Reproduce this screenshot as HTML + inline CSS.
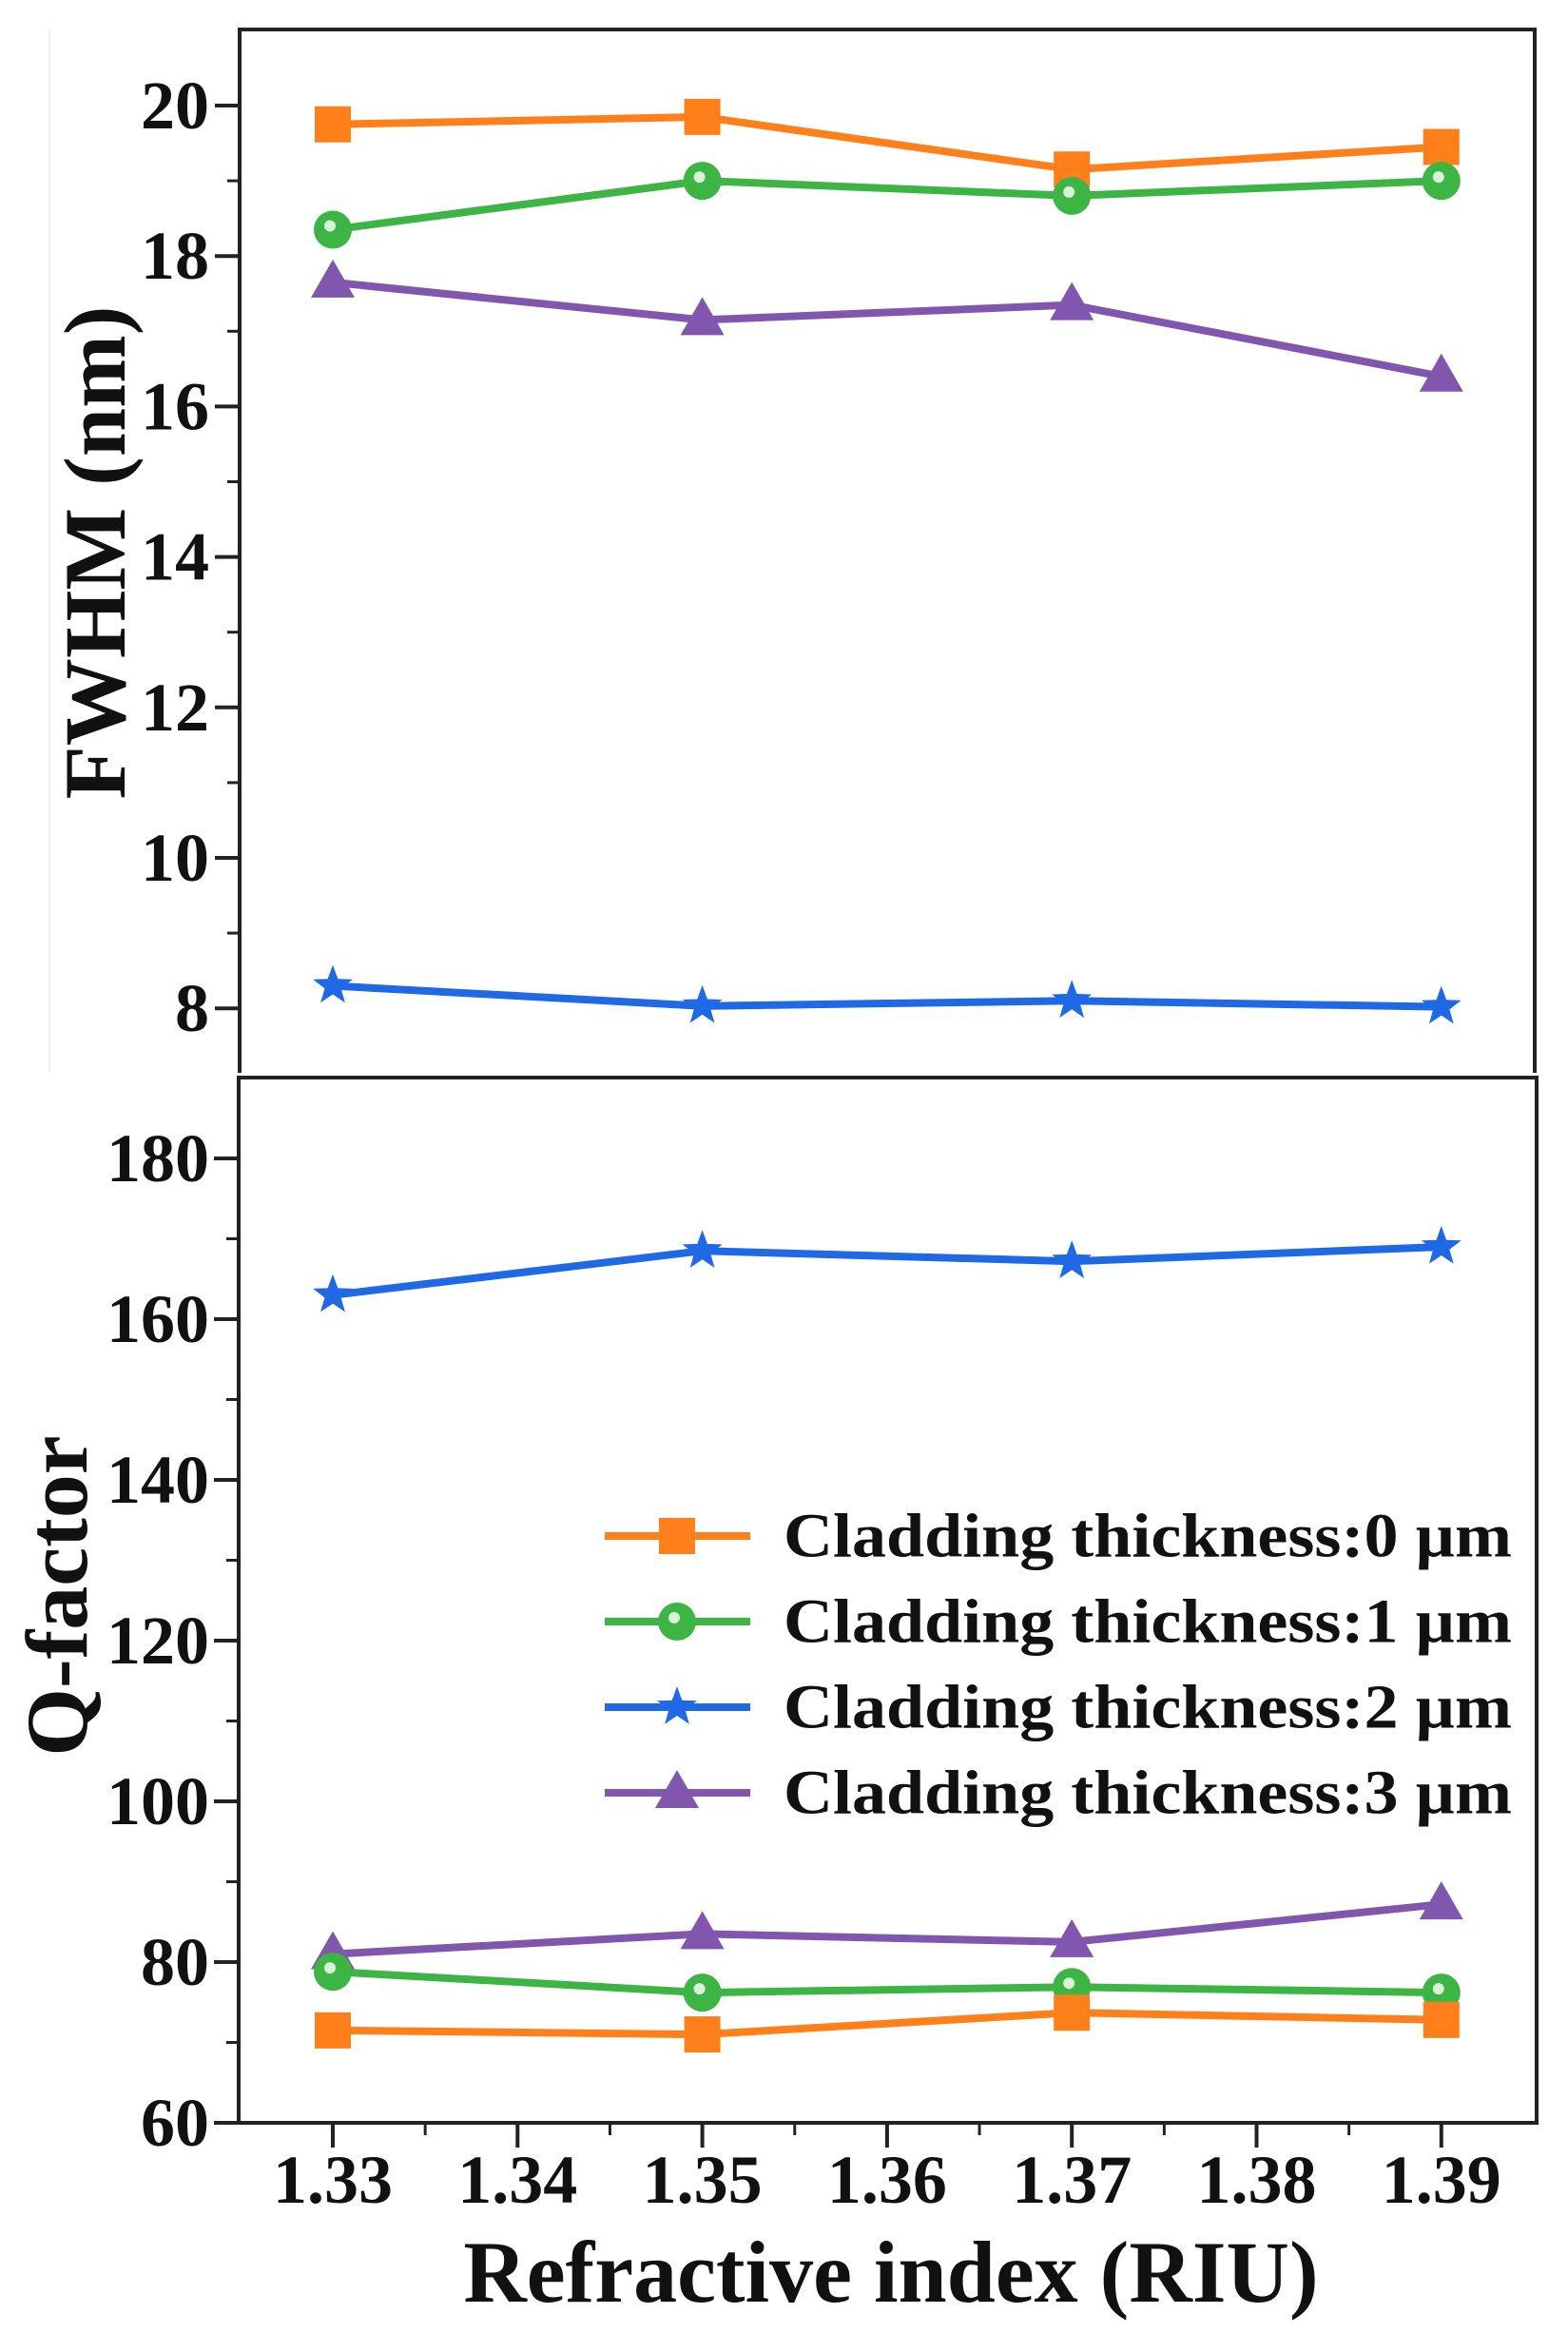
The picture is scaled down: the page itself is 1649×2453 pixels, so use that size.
<!DOCTYPE html>
<html><head><meta charset="utf-8"><style>html,body{margin:0;padding:0;background:#fff}svg{display:block}text{font-family:"Liberation Serif",serif;font-weight:bold;fill:#111}</style></head>
<body>
<svg id="chart" width="1649" height="2453" viewBox="0 0 1649 2453" xmlns="http://www.w3.org/2000/svg">
<line x1="52" y1="31" x2="52" y2="1128" stroke="#eee" stroke-width="2"/>
<g id="topPanel"></g>
<g id="botPanel"></g>
<text x="100" y="581" font-size="92" text-anchor="middle" dominant-baseline="central" transform="rotate(-90 100 581)">FWHM (nm)</text>
<text x="60" y="1678" font-size="92" text-anchor="middle" dominant-baseline="central" transform="rotate(-90 60 1678)">Q-factor</text>
<text x="937" y="2420" font-size="92" text-anchor="middle">Refractive index (RIU)</text>
<g id="legendG"></g>
</svg>
<script>
const xValues = [1.33, 1.35, 1.37, 1.39];
const xTicks = [1.33, 1.34, 1.35, 1.36, 1.37, 1.38, 1.39];
const fwhm0 = [19.75, 19.85, 19.15, 19.45];
const fwhm1 = [18.35, 19.0, 18.8, 19.0];
const fwhm2 = [8.3, 8.03, 8.1, 8.02];
const fwhm3 = [17.65, 17.15, 17.35, 16.4];
const q0 = [71.5, 71.0, 73.7, 72.8];
const q1 = [78.8, 76.2, 76.9, 76.2];
const q2 = [163.0, 168.5, 167.2, 169.0];
const q3 = [81.0, 83.5, 82.5, 87.2];
const fwhmTicks = [8, 10, 12, 14, 16, 18, 20];
const qTicks = [60, 80, 100, 120, 140, 160, 180];
const legendLabels = ["Cladding thickness:0 µm","Cladding thickness:1 µm","Cladding thickness:2 µm","Cladding thickness:3 µm"];

const NS = "http://www.w3.org/2000/svg";
const colors = ["#ff7f1a", "#3db544", "#1f68e6", "#8156ae"];
const markers = ["square", "circle", "star", "triangle"];
function mk(tag, attrs, parent){const e=document.createElementNS(NS,tag);for(const k in attrs)e.setAttribute(k,attrs[k]);parent.appendChild(e);return e;}
const xs = v => 350 + (v - 1.33) / 0.01 * 194.3;
const yTop = v => 111 + (20 - v) * 79.1;
const yBot = v => 1218 + (180 - v) * 8.45;

function marker(type, cx, cy, color, parent){
  let e;
  if(type==="square"){e=mk("rect",{x:cx-19,y:cy-19,width:38,height:38,fill:color},parent);}
  else if(type==="circle"){e=mk("circle",{cx:cx,cy:cy,r:20,fill:color},parent);
    mk("circle",{cx:cx-3,cy:cy-4,r:6,fill:"#e8f8e8",opacity:0.9},parent);}
  else if(type==="star"){let p=[];for(let i=0;i<10;i++){const r=i%2?9:22;const a=-Math.PI/2+i*Math.PI/5;p.push((cx+r*Math.cos(a)).toFixed(1)+","+(cy+r*Math.sin(a)).toFixed(1));}
    e=mk("polygon",{points:p.join(" "),fill:color},parent);}
  else {e=mk("polygon",{points:`${cx},${cy-24} ${cx+23},${cy+16} ${cx-23},${cy+16}`,fill:color},parent);}
  
  
}
function series(vals, yf, idx, parent){
  const g=mk("g",{},parent);
  
  
  const pts = vals.map((v,i)=>xs(xValues[i]).toFixed(1)+","+yf(v).toFixed(1)).join(" ");
  const pl=mk("polyline",{points:pts,fill:"none",stroke:colors[idx],"stroke-width":8,"stroke-linejoin":"round"},g);
  
  
  vals.forEach((v,i)=>marker(markers[idx], xs(xValues[i]), yf(v), colors[idx], g));
}

// top panel
const topG = document.getElementById("topPanel");
const tf = mk("path",{d:"M252,1128 L252,31 L1614,31 L1614,1128",fill:"none",stroke:"#222","stroke-width":4},topG);


fwhmTicks.forEach(t=>{
  const y=yTop(t);
  const l=mk("line",{x1:226,y1:y,x2:252,y2:y,stroke:"#222","stroke-width":4},topG);
  
  
  const tx=mk("text",{x:220,y:y,"font-size":72,"text-anchor":"end","dominant-baseline":"central"},topG);
  tx.textContent=t;
  
  
  if(t<20){const ym=yTop(t+1);const m=mk("line",{x1:239,y1:ym,x2:252,y2:ym,stroke:"#222","stroke-width":3},topG);
    
    }
});
[fwhm0,fwhm1,fwhm3,fwhm2].forEach((s)=>series(s,yTop,[fwhm0,fwhm1,fwhm2,fwhm3].indexOf(s),topG));

// bottom panel
const botG = document.getElementById("botPanel");
const bf = mk("rect",{x:251,y:1133,width:1365,height:1099,fill:"none",stroke:"#222","stroke-width":4},botG);


qTicks.forEach(t=>{
  const y=yBot(t);
  const l=mk("line",{x1:225,y1:y,x2:251,y2:y,stroke:"#222","stroke-width":4},botG);
  
  
  const tx=mk("text",{x:220,y:y,"font-size":72,"text-anchor":"end","dominant-baseline":"central"},botG);
  tx.textContent=t;
  
  
  if(t<180){const ym=yBot(t+10);const m=mk("line",{x1:238,y1:ym,x2:251,y2:ym,stroke:"#222","stroke-width":3},botG);
    
    }
});
xTicks.forEach((t,i)=>{
  const x=xs(t);
  const l=mk("line",{x1:x,y1:2232,x2:x,y2:2258,stroke:"#222","stroke-width":4},botG);
  
  
  const tx=mk("text",{x:x,y:2316,"font-size":72,"text-anchor":"middle"},botG);
  tx.textContent=t.toFixed(2);
  
  
  if(i<xTicks.length-1){const xm=xs(t+0.005);const m=mk("line",{x1:xm,y1:2232,x2:xm,y2:2245,stroke:"#222","stroke-width":3},botG);
    
    }
});
[q2,q3,q1,q0].forEach((s)=>series(s,yBot,[q0,q1,q2,q3].indexOf(s),botG));

// legend
const lgG = document.getElementById("legendG");
legendLabels.forEach((lab,i)=>{
  const y = 1615 + i*90;
  const g=mk("g",{},lgG);
  
  
  mk("line",{x1:636,y1:y,x2:789,y2:y,stroke:colors[i],"stroke-width":8},g);
  marker(markers[i], 712, y, colors[i], g);
  const tx=mk("text",{x:824,y:y,"font-size":66,"dominant-baseline":"central",textLength:766,lengthAdjust:"spacingAndGlyphs"},g);
  tx.textContent=lab;
  
  
});
</script>
</body></html>
